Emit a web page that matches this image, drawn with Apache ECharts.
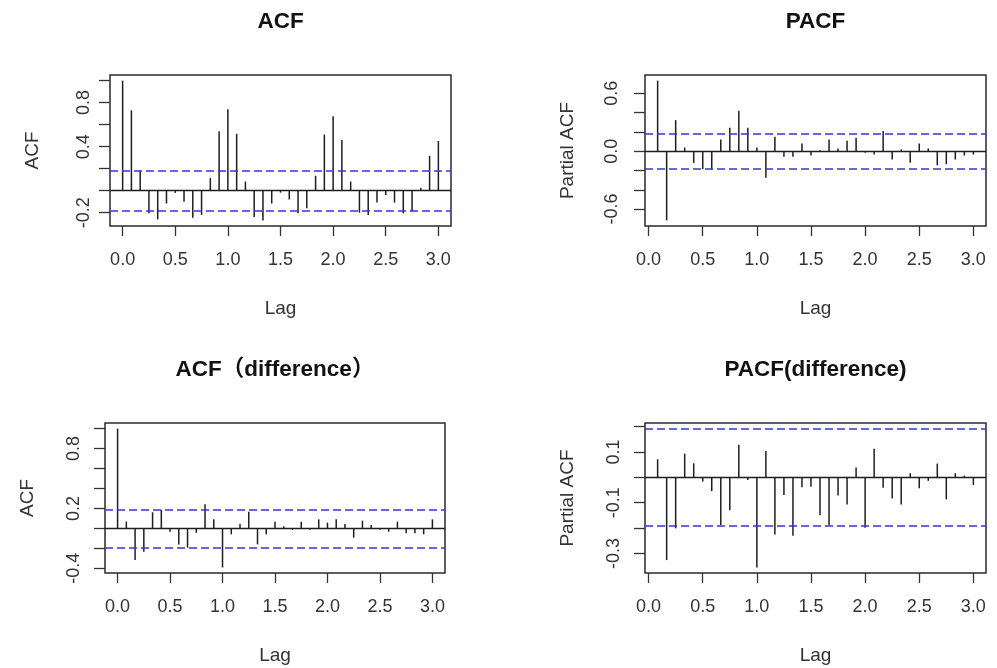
<!DOCTYPE html>
<html>
<head>
<meta charset="utf-8">
<script src="https://cdn.jsdelivr.net/npm/echarts@6/dist/echarts.min.js"></script>
<style>
html,body{margin:0;padding:0;background:#fff;}
#main{width:997px;height:668px;}
</style>
</head>
<body>
<div id="main"></div>
<script>
// ---- Data ----
const FREQ = 12; // monthly series: lag step = 1/12
const acfValues = [1.0, 0.73, 0.18, -0.206, -0.26, -0.117, -0.02, -0.10, -0.246, -0.22, 0.114, 0.54, 0.74, 0.517, 0.083, -0.24, -0.27, -0.117, -0.018, -0.08, -0.206, -0.16, 0.135, 0.51, 0.677, 0.46, 0.083, -0.2, -0.22, -0.108, -0.04, -0.108, -0.206, -0.19, 0.025, 0.317, 0.452];
const pacfValues = [0.731, -0.717, 0.322, 0.038, -0.121, -0.184, -0.19, 0.121, 0.243, 0.419, 0.243, 0.038, -0.274, 0.149, -0.059, -0.059, 0.08, -0.045, 0.01, 0.121, 0.028, 0.107, 0.139, -0.017, -0.035, 0.208, -0.087, 0.017, -0.121, 0.08, 0.028, -0.146, -0.135, -0.087, -0.045, -0.035];
const acfDiffValues = [1.0, 0.067, -0.318, -0.235, 0.161, 0.184, -0.034, -0.161, -0.194, -0.044, 0.241, 0.09, -0.392, -0.06, 0.044, 0.167, -0.161, -0.06, 0.067, 0.02, -0.017, 0.067, -0.013, 0.09, 0.057, 0.09, 0.044, -0.094, 0.077, 0.034, -0.013, -0.034, 0.067, -0.05, -0.05, -0.06, 0.09];
const pacfDiffValues = [0.071, -0.326, -0.201, 0.093, 0.055, -0.017, -0.054, -0.188, -0.13, 0.128, -0.011, -0.355, 0.104, -0.225, -0.07, -0.23, -0.039, -0.037, -0.149, -0.188, -0.072, -0.107, 0.039, -0.199, 0.112, -0.041, -0.083, -0.107, 0.016, -0.043, -0.014, 0.054, -0.087, 0.016, 0.007, -0.03];
const ciLevel = 0.184;      // +/- confidence bound, original series
const ciLevelDiff = 0.192;  // +/- confidence bound, differenced series

const titles = ['ACF', 'PACF', 'ACF（difference）', 'PACF(difference)'];
const yNames = ['ACF', 'Partial ACF', 'ACF', 'Partial ACF'];
const xName = 'Lag';
const xTicks = [0, 0.5, 1.0, 1.5, 2.0, 2.5, 3.0];
const yTicks = [
  [-0.2, 0, 0.2, 0.4, 0.6, 0.8, 1.0],
  [-0.6, -0.4, -0.2, 0, 0.2, 0.4, 0.6],
  [-0.4, -0.2, 0, 0.2, 0.4, 0.6, 0.8, 1.0],
  [-0.3, -0.2, -0.1, 0, 0.1, 0.2]
];
const yLabels = [
  [-0.2, 0.4, 0.8],
  [-0.6, 0, 0.6],
  [-0.4, 0.2, 0.8],
  [-0.3, -0.1, 0.1]
];

// ---- Build ----
const panels = [
  {vals: acfValues, startLag: 0, ci: ciLevel},
  {vals: pacfValues, startLag: 1, ci: ciLevel},
  {vals: acfDiffValues, startLag: 0, ci: ciLevelDiff},
  {vals: pacfDiffValues, startLag: 1, ci: ciLevelDiff}
];
const grids = [
  {left: 110, top: 75, width: 341, height: 151},
  {left: 645, top: 75, width: 341, height: 151},
  {left: 105, top: 423, width: 340, height: 150},
  {left: 645, top: 423, width: 341, height: 150}
];
const labelMargins = [17, 24, 22, 22];
const FONT = '"Liberation Sans", Arial, "Noto Sans CJK SC", sans-serif';

function rRange(lo, hi) { const d = (hi - lo) * 0.04; return [lo - d, hi + d]; }

const option = {
  animation: false,
  backgroundColor: '#fff',
  grid: [], xAxis: [], yAxis: [], series: [], graphic: []
};

panels.forEach((p, i) => {
  const data = p.vals.map((v, k) => [(k + p.startLag) / FREQ, v]);
  const xs = data.map(d => d[0]);
  const ys = p.vals.concat([p.ci, -p.ci]);
  const xr = rRange(Math.min(...xs), Math.max(...xs));
  const yr = rRange(Math.min(...ys), Math.max(...ys));
  const g = grids[i];
  option.grid.push(Object.assign({show: true, borderColor: '#2a2a2a', borderWidth: 1.5, backgroundColor: 'transparent'}, g));
  option.xAxis.push({
    type: 'value', gridIndex: i, min: xr[0], max: xr[1],
    name: xName, nameLocation: 'middle', nameGap: 73,
    nameTextStyle: {fontFamily: FONT, fontSize: 19, color: '#333'},
    axisLine: {show: false, onZero: false},
    splitLine: {show: false},
    axisTick: {show: true, inside: false, length: 10, customValues: xTicks, lineStyle: {color: '#333', width: 1.3}},
    axisLabel: {customValues: xTicks, margin: 25, fontFamily: FONT, fontSize: 18, color: '#333', formatter: v => v.toFixed(1)}
  });
  option.yAxis.push({
    type: 'value', gridIndex: i, min: yr[0], max: yr[1],
    name: yNames[i], nameLocation: 'middle', nameGap: 68, nameRotate: 90,
    nameTextStyle: {fontFamily: FONT, fontSize: 19, color: '#333'},
    axisLine: {show: false, onZero: false},
    splitLine: {show: false},
    axisTick: {show: true, inside: false, length: 11, customValues: yTicks[i], lineStyle: {color: '#333', width: 1.3}},
    axisLabel: {customValues: yLabels[i], rotate: 90, margin: labelMargins[i], fontFamily: FONT, fontSize: 18, color: '#333', formatter: v => v.toFixed(1)}
  });
  option.series.push({
    type: 'custom', xAxisIndex: i, yAxisIndex: i, data: data, silent: true,
    renderItem: (params, api) => {
      const a = api.coord([api.value(0), 0]);
      const b = api.coord([api.value(0), api.value(1)]);
      return {type: 'line', shape: {x1: a[0], y1: a[1], x2: b[0], y2: b[1]}, style: {stroke: '#1e1e1e', lineWidth: 1.5}};
    },
    markLine: {
      silent: true, symbol: 'none', label: {show: false}, animation: false,
      data: [
        {yAxis: 0, lineStyle: {color: '#1e1e1e', type: 'solid', width: 1.4}},
        {yAxis: p.ci, lineStyle: {color: '#3434e0', type: [8, 4], width: 1.5}},
        {yAxis: -p.ci, lineStyle: {color: '#3434e0', type: [8, 4], width: 1.5}}
      ]
    }
  });
  option.graphic.push({
    type: 'text', x: g.left + g.width / 2, y: i < 2 ? 22 : 370,
    style: {text: titles[i], font: 'bold 22.5px ' + FONT, fill: '#111', align: 'center', verticalAlign: 'middle'}
  });
});

const chart = echarts.init(document.getElementById('main'), null, {renderer: 'canvas'});
chart.setOption(option);
</script>
</body>
</html>
